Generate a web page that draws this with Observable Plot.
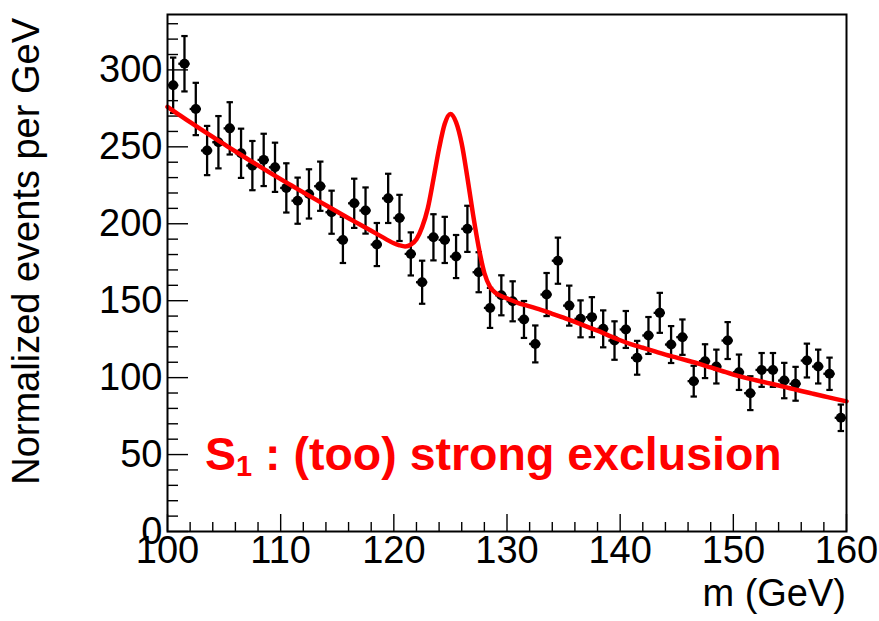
<!DOCTYPE html>
<html>
<head>
<meta charset="utf-8">
<script src="https://cdn.jsdelivr.net/npm/d3@7"></script>
<script src="https://cdn.jsdelivr.net/npm/@observablehq/plot@0.6"></script>
<style>
  html, body { margin: 0; padding: 0; background: #ffffff; }
  #chart svg { display: block; }
</style>
</head>
<body>
<div id="chart"></div>
<script>
// ---- data ----
const binCenter = [100.5,101.5,102.5,103.5,104.5,105.5,106.5,107.5,108.5,109.5,
  110.5,111.5,112.5,113.5,114.5,115.5,116.5,117.5,118.5,119.5,
  120.5,121.5,122.5,123.5,124.5,125.5,126.5,127.5,128.5,129.5,
  130.5,131.5,132.5,133.5,134.5,135.5,136.5,137.5,138.5,139.5,
  140.5,141.5,142.5,143.5,144.5,145.5,146.5,147.5,148.5,149.5,
  150.5,151.5,152.5,153.5,154.5,155.5,156.5,157.5,158.5,159.5];
const counts = [290,304,274.6,247.6,253,262,245.8,237.8,241.5,236.7,
  223.3,215,219.4,224.4,207.5,189.5,213.3,208.6,186.5,216.5,
  203.8,180.4,162,191.2,189.5,178.7,196.7,168.5,145.3,153.5,
  149.6,137.8,121.9,154,176,146.8,138.2,139.3,131.7,124.1,
  131.3,112.9,127.4,142.1,121.5,126.3,97.7,110.7,107.2,124.1,
  103.5,89.9,105,105,98.1,96,111.1,107.2,102.5,73.9];
const errors = [18,18,17,16,17,17,16,16,17,16,
  16,15,16,16,14,15,16,15,14,16,
  15,14,14,15,15,14,15,13,13,13,
  13,12,12,14,15,13,12,13,12,12.5,
  12,11,12,13,12,11.5,10,11,11,12,
  11.5,11,11,11,11.5,11,11,11,10.5,8.6];

const fitMass = [100,101,102,103,104,105,106,107,108,109,110,111,112,113,114,115,116,117,118,119,
  119.5,120,120.5,121,121.5,122,122.5,123,123.5,124,124.5,125,125.5,126,126.5,127,127.5,128,128.5,129,129.5,
  130,131,132,133,134,135,136,137,138,139,140,141,142,143,144,145,146,147,148,149,150,
  151,152,153,154,155,156,157,158,159,160];
const fitValue = [276,271,266,261.2,256.4,251.7,247,242.4,237.9,233.4,229,224.7,220.4,216.2,212,207.8,203.6,199.5,195.4,191.3,
  189.2,187.3,186,185.3,186.5,190,197.8,210,229,249,265,271.4,266,252,230,206,184.7,168,159,155,153,
  151.5,148.5,146.3,144,141.5,139,136.2,133.3,130.5,127.3,124.3,121.6,119.4,117.2,115,113,111,108.9,106.6,104.3,102,
  100,98.3,96.6,94.9,93.1,91.3,89.6,87.9,86.2,84.6];

const yMajorTicks = [0,50,100,150,200,250,300];
const yMinorTicks = [10,20,30,40,60,70,80,90,110,120,130,140,160,170,180,190,210,220,230,240,260,270,280,290,310,320,330];
const xMajorTicks = [100,110,120,130,140,150,160];
const xMinorTicks = [102,104,106,108,112,114,116,118,122,124,126,128,132,134,136,138,142,144,146,148,152,154,156,158];

const yTitle = "Normalized events per GeV";
const xTitle = "m (GeV)";
const annMain = "S";
const annSub = "1";
const annRest = " : (too) strong exclusion";

// ---- layout ----
const W = 879, H = 621;
const mL = 167, mR = 33, mT = 14, mB = 90;
const fw = W - mL - mR, fh = H - mT - mB;
const FONT = "'Liberation Sans', Arial, Helvetica, sans-serif";

const data = binCenter.map((m, i) => ({m, v: counts[i], e: errors[i]}));
const fit = fitMass.map((m, i) => ({m, y: fitValue[i]}));

const capSymbol = {
  draw(ctx, size) {
    const r = Math.sqrt(size / Math.PI);
    ctx.moveTo(-r, 0);
    ctx.lineTo(r, 0);
  }
};

const chart = Plot.plot({
  width: W, height: H,
  marginLeft: mL, marginRight: mR, marginTop: mT, marginBottom: mB,
  style: {fontFamily: FONT, background: "#ffffff", color: "#000000"},
  x: {domain: [100, 160], label: null},
  y: {domain: [0, 336], label: null},
  marks: [
    Plot.axisY(yMajorTicks, {tickSize: 0, tickPadding: 5, fontSize: 38, tickFormat: d => String(d), label: null}),
    Plot.axisX(xMajorTicks, {tickSize: 0, tickPadding: 5, fontSize: 38, tickFormat: d => String(d), label: null}),
    Plot.tickY(yMajorTicks, {y: d => d, insetRight: fw - 21, stroke: "#000", strokeWidth: 1.4}),
    Plot.tickY(yMinorTicks, {y: d => d, insetRight: fw - 11, stroke: "#000", strokeWidth: 1.4}),
    Plot.tickX(xMajorTicks, {x: d => d, insetTop: fh - 17, stroke: "#000", strokeWidth: 1.4}),
    Plot.tickX(xMinorTicks, {x: d => d, insetTop: fh - 9, stroke: "#000", strokeWidth: 1.4}),
    // error bars
    Plot.ruleX(data, {x: "m", y1: d => d.v - d.e, y2: d => d.v + d.e, stroke: "#000", strokeWidth: 2.3}),
    Plot.ruleY(data, {y: "v", x1: d => d.m - 0.5, x2: d => d.m + 0.5, stroke: "#000", strokeWidth: 2.3}),
    Plot.dot(data, {x: "m", y: d => d.v + d.e, symbol: capSymbol, r: 3.2, stroke: "#000", strokeWidth: 2.2, fill: "none"}),
    Plot.dot(data, {x: "m", y: d => d.v - d.e, symbol: capSymbol, r: 3.2, stroke: "#000", strokeWidth: 2.2, fill: "none"}),
    Plot.dot(data, {x: "m", y: "v", r: 5, fill: "#000", stroke: "none"}),
    // fit curve
    Plot.line(fit, {x: "m", y: "y", stroke: "#ff0000", strokeWidth: 4.5, curve: "monotone-x"}),
    Plot.frame({stroke: "#000", strokeWidth: 2})
  ]
});

document.getElementById("chart").appendChild(chart);

const svg = d3.select(chart);
svg.append("text")
  .attr("transform", "translate(39,18) rotate(-90)")
  .attr("text-anchor", "end")
  .attr("font-family", FONT)
  .attr("font-size", 38)
  .attr("fill", "#000")
  .text(yTitle);

svg.append("text")
  .attr("x", 846).attr("y", 606)
  .attr("text-anchor", "end")
  .attr("font-family", FONT)
  .attr("font-size", 38)
  .attr("fill", "#000")
  .text(xTitle);

const ann = svg.append("text")
  .attr("x", 205).attr("y", 470)
  .attr("text-anchor", "start")
  .attr("font-family", FONT)
  .attr("font-weight", "bold")
  .attr("font-size", 46.5)
  .attr("fill", "#ff0000");
ann.append("tspan").text(annMain);
ann.append("tspan").attr("font-size", 29).attr("dy", 6).text(annSub);
ann.append("tspan").attr("dy", -6).text(annRest);
</script>
</body>
</html>
